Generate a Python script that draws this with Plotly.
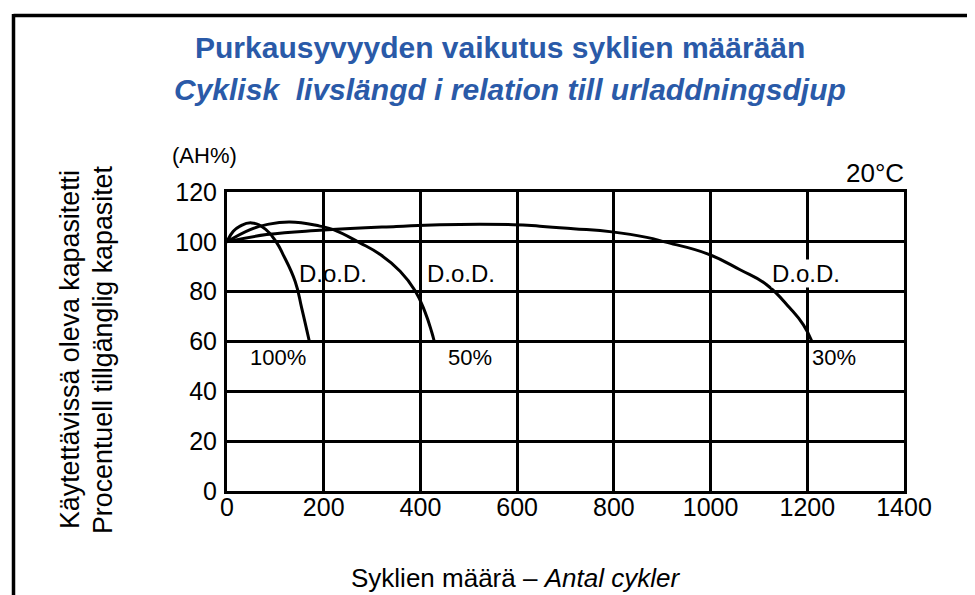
import plotly.graph_objects as go

# ---- data ----
dod100_x = [0, 13, 27, 51, 80, 103, 116, 141, 154.5, 170]
dod100_y = [100, 104.2, 106.3, 107.6, 105.0, 99.6, 94.9, 84.1, 73.4, 60.3]

dod50_x = [0, 48, 82, 130, 192, 220, 275, 317, 358, 389, 409, 423, 428]
dod50_y = [100, 104.9, 106.9, 108.0, 106.3, 104.9, 99.6, 94.9, 88.2, 80.4, 72.1, 64.0, 60.5]

dod30_x = [0, 82, 200, 350, 440, 592, 647, 716, 796, 868, 905, 995, 1061, 1116, 1164, 1192, 1209]
dod30_y = [100, 102.9, 104.7, 106.2, 106.9, 106.9, 106.3, 105.3, 104.0, 101.8, 100.0, 95.1, 88.8, 82.8, 73.4, 66.7, 60.3]

x_ticks = [0, 200, 400, 600, 800, 1000, 1200, 1400]
y_ticks = [0, 20, 40, 60, 80, 100, 120]

title1 = "Purkausyvyyden vaikutus syklien määrään"
title2 = "Cyklisk  livslängd i relation till urladdningsdjup"
ytitle1 = "Käytettävissä oleva kapasitetti"
ytitle2 = "Procentuell tillgänglig kapasitet"
xtitle = "Syklien määrä – <i>Antal cykler</i>"

dod_labels = [
    # text, x, y, bg
    ("D.o.D.", 145, 87.2, None),
    ("D.o.D.", 409, 87.2, None),
    ("D.o.D.", 1124, 87.2, "white"),
]
pct_labels = [
    ("100%", 44, 53.5),
    ("50%", 453, 53.5),
    ("30%", 1206, 53.5),
]

# page body has an 8px margin: figure is drawn at (8, 8) in the window
OFF = 8
W, H = 975 - OFF, 595 - OFF
L, T = 227 - OFF, 192 - OFF
R = W - (904 - OFF)
B = H - (491 - OFF)
PW, PH = W - L - R, H - T - B


def xp(px):
    return (px - OFF - L) / PW


def yp(py):
    return (H - B - (py - OFF)) / PH


FONT = "Liberation Sans, Arial, Helvetica, sans-serif"
BLUE = "#2A5AA8"

fig = go.Figure()
for xs, ys in [(dod100_x, dod100_y), (dod50_x, dod50_y), (dod30_x, dod30_y)]:
    fig.add_trace(go.Scatter(x=xs, y=ys, mode="lines",
                             line=dict(color="black", width=3, shape="spline", smoothing=1.3),
                             showlegend=False, hoverinfo="skip"))

axis_common = dict(showgrid=True, gridcolor="black", gridwidth=3,
                   showline=True, linecolor="black", linewidth=3, mirror=True,
                   zeroline=False, ticks="", tickfont=dict(family=FONT, size=25, color="black"))

fig.update_xaxes(range=[0, 1400], tickvals=x_ticks, ticktext=[str(v) for v in x_ticks],
                 ticklabelstandoff=-8, **axis_common)
fig.update_yaxes(range=[0, 120], tickvals=y_ticks, ticktext=[str(v) for v in y_ticks],
                 ticklabelstandoff=2, **axis_common)

ann = []
for text, x, y, bg in dod_labels:
    a = dict(text=text, x=x, y=y, xref="x", yref="y", xanchor="left", yanchor="middle",
             showarrow=False, font=dict(family=FONT, size=24, color="black"))
    if bg:
        a["bgcolor"] = bg
        a["borderpad"] = 0
    ann.append(a)
for text, x, y in pct_labels:
    ann.append(dict(text=text, x=x, y=y, xref="x", yref="y", xanchor="left", yanchor="middle",
                    showarrow=False, font=dict(family=FONT, size=22, color="black")))

ann += [
    dict(text=f"<b>{title1}</b>", x=xp(500), y=yp(47), xref="paper", yref="paper",
         xanchor="center", yanchor="middle", showarrow=False,
         font=dict(family=FONT, size=30, color=BLUE)),
    dict(text=f"<b><i>{title2}</i></b>", x=xp(510), y=yp(89), xref="paper", yref="paper",
         xanchor="center", yanchor="middle", showarrow=False,
         font=dict(family=FONT, size=30, color=BLUE)),
    dict(text="(AH%)", x=xp(170), y=yp(155), xref="paper", yref="paper",
         xanchor="left", yanchor="middle", showarrow=False,
         font=dict(family=FONT, size=22, color="black")),
    dict(text="20°C", x=xp(906), y=yp(173), xref="paper", yref="paper",
         xanchor="right", yanchor="middle", showarrow=False,
         font=dict(family=FONT, size=26, color="black")),
    dict(text=ytitle1, x=xp(70), y=yp(350), xref="paper", yref="paper",
         xanchor="center", yanchor="middle", showarrow=False, textangle=-90,
         font=dict(family=FONT, size=26.8, color="black")),
    dict(text=ytitle2, x=xp(103), y=yp(350), xref="paper", yref="paper",
         xanchor="center", yanchor="middle", showarrow=False, textangle=-90,
         font=dict(family=FONT, size=26.8, color="black")),
    dict(text=xtitle, x=xp(515), y=yp(578), xref="paper", yref="paper",
         xanchor="center", yanchor="middle", showarrow=False,
         font=dict(family=FONT, size=26, color="black")),
]

shapes = [
    dict(type="line", xref="paper", yref="paper", x0=xp(13.5), x1=xp(990), y0=yp(15.5), y1=yp(15.5),
         line=dict(color="black", width=3.5)),
    dict(type="line", xref="paper", yref="paper", x0=xp(13.5), x1=xp(13.5), y0=yp(14), y1=yp(600),
         line=dict(color="black", width=3.5)),
]

fig.update_layout(width=W, height=H, margin=dict(l=L, r=R, t=T, b=B),
                  paper_bgcolor="white", plot_bgcolor="white",
                  annotations=ann, shapes=shapes, showlegend=False)

fig.write_html("out.html")
